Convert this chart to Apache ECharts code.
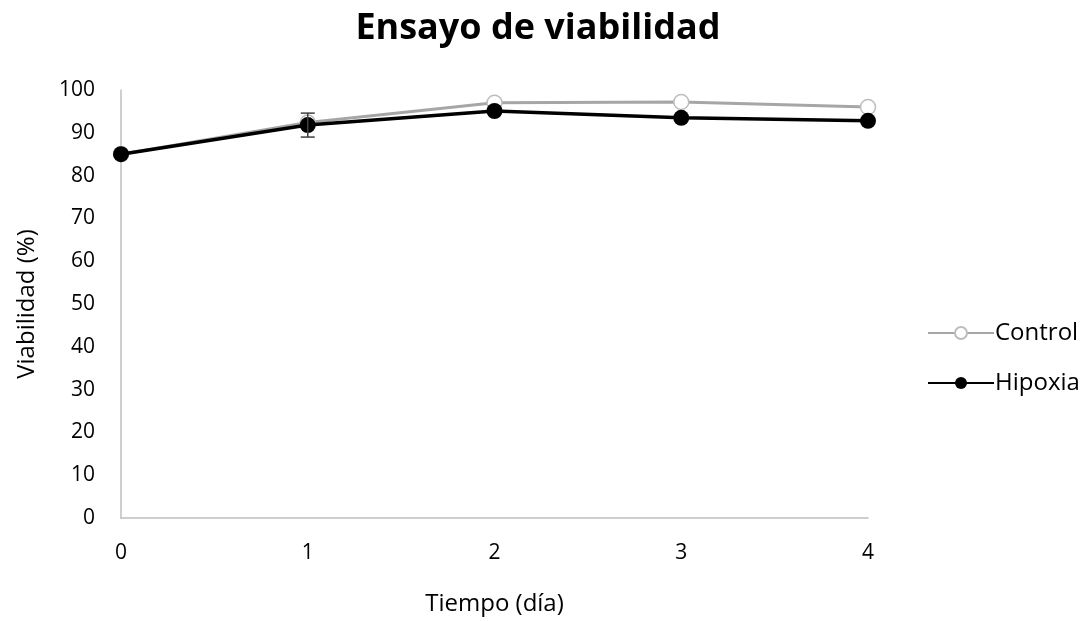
<!DOCTYPE html>
<html><head><meta charset="utf-8">
<script src="https://cdn.jsdelivr.net/npm/echarts@6/dist/echarts.min.js"></script>
<style>html,body{margin:0;padding:0;background:#fff}#c{width:1089px;height:621px}</style>
</head><body><div id="c"></div>
<script>
const days = [0, 1, 2, 3, 4];
const controlValues = [85.0, 92.4, 97.0, 97.2, 96.0];
const hipoxiaValues = [85.0, 91.8, 95.1, 93.5, 92.8];
const hipoxiaErr = [0, 2.8, 0, 0, 0];
const yTicks = [0, 10, 20, 30, 40, 50, 60, 70, 80, 90, 100];

const font = "'Open Sans', 'Liberation Sans', sans-serif";
const chart = echarts.init(document.getElementById('c'));
const errData = days.map((d, i) => [d, hipoxiaValues[i] - hipoxiaErr[i], hipoxiaValues[i] + hipoxiaErr[i]]).filter((e, i) => hipoxiaErr[i] > 0);
chart.setOption({
  animation: false,
  title: { text: 'Ensayo de viabilidad', left: 533, top: 6, textAlign: 'center',
    textStyle: { fontFamily: font, fontWeight: 'bold', fontSize: 36, color: '#000' } },
  grid: { left: 121, right: 221, top: 90, bottom: 103 },
  legend: {
    orient: 'vertical', left: 922, top: 316, itemGap: 26, itemWidth: 66, itemHeight: 15,
    textStyle: { fontFamily: font, fontSize: 24, color: '#000', padding: [0, 0, 0, -4] },
    data: ['Control', 'Hipoxia']
  },
  xAxis: {
    type: 'value', min: 0, max: 4, interval: 1,
    name: 'Tiempo (día)', nameLocation: 'middle', nameGap: 74,
    nameTextStyle: { fontFamily: font, fontSize: 24, color: '#000' },
    axisLine: { show: true, lineStyle: { color: '#bfbfbf', width: 1.5 } },
    axisTick: { show: false }, splitLine: { show: false },
    axisLabel: { fontFamily: font, fontSize: 21, color: '#000', margin: 25 }
  },
  yAxis: {
    type: 'value', min: 0, max: 100, interval: 10,
    name: 'Viabilidad (%)', nameLocation: 'middle', nameGap: 82,
    nameTextStyle: { fontFamily: font, fontSize: 24, color: '#000' },
    axisLine: { show: true, lineStyle: { color: '#bfbfbf', width: 1.5 } },
    axisTick: { show: false }, splitLine: { show: false },
    axisLabel: { fontFamily: font, fontSize: 21, color: '#000', margin: 26,
      formatter: v => yTicks.includes(v) ? String(v) : '' }
  },
  series: [
    { name: 'Control', type: 'line', data: days.map((d, i) => [d, controlValues[i]]),
      symbol: 'circle', symbolSize: 15, z: 2,
      lineStyle: { color: '#a6a6a6', width: 3 },
      itemStyle: { color: '#fff', borderColor: '#bdbdbd', borderWidth: 1.5 } },
    { name: 'Hipoxia', type: 'line', data: days.map((d, i) => [d, hipoxiaValues[i]]),
      symbol: 'circle', symbolSize: 16, z: 3,
      lineStyle: { color: '#000', width: 3.5 },
      itemStyle: { color: '#000' } },
    { name: 'err', type: 'custom', z: 4, data: errData,
      renderItem: (params, api) => {
        const x = api.value(0);
        const lo = api.coord([x, api.value(1)]);
        const hi = api.coord([x, api.value(2)]);
        const w = 7;
        const st = { stroke: '#404040', lineWidth: 1.5 };
        return { type: 'group', children: [
          { type: 'line', shape: { x1: lo[0], y1: lo[1], x2: hi[0], y2: hi[1] }, style: st },
          { type: 'line', shape: { x1: lo[0] - w, y1: lo[1], x2: lo[0] + w, y2: lo[1] }, style: st },
          { type: 'line', shape: { x1: hi[0] - w, y1: hi[1], x2: hi[0] + w, y2: hi[1] }, style: st }
        ]};
      } }
  ]
});
</script></body></html>
